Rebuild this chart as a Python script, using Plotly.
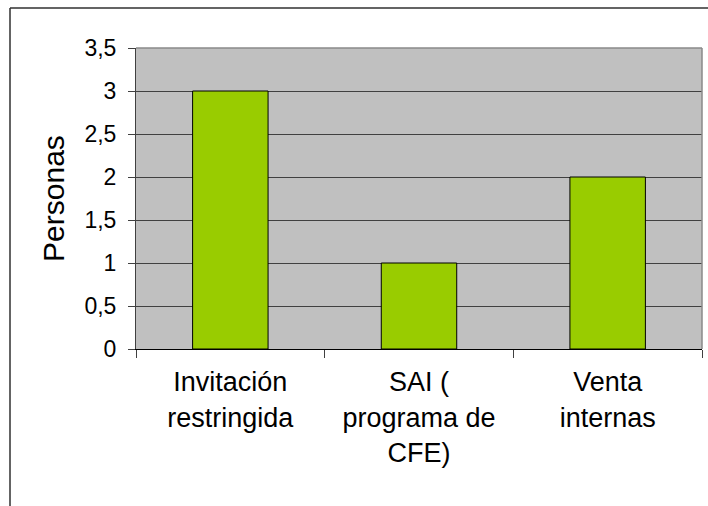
import plotly.graph_objects as go

categories = ["Invitación<br>restringida", "SAI (<br>programa de<br>CFE)", "Venta<br>internas"]
values = [3, 1, 2]
y_tick_vals = [0, 0.5, 1, 1.5, 2, 2.5, 3, 3.5]

FONT = "Arial, Liberation Sans, sans-serif"

fig = go.Figure()
fig.add_trace(go.Bar(
    x=categories, y=values,
    marker=dict(color="#99CC00", line=dict(color="#000000", width=1)),
))

L, R, T, B = 136, 6, 48, 157
W, H = 708, 506
pw = W - L - R
ph = H - T - B
fx = (10 - L) / pw
fy = 1 + (T - 8) / ph

fig.update_layout(
    width=W, height=H,
    margin=dict(l=L, r=R, t=T, b=B, pad=0),
    paper_bgcolor="white",
    plot_bgcolor="#C0C0C0",
    separators=",.",
    bargap=0.6,
    showlegend=False,
    font=dict(family=FONT, color="black"),
    xaxis=dict(
        type="category",
        tickson="boundaries",
        ticks="outside", ticklen=8, tickcolor="#404040", tickwidth=1,
        showgrid=False,
        showline=True, linecolor="black", linewidth=1,
        tickfont=dict(size=27, family=FONT),
        ticklabelstandoff=9,
        fixedrange=True,
    ),
    yaxis=dict(
        range=[0, 3.5],
        tickvals=y_tick_vals,
        ticks="outside", ticklen=7, tickcolor="#404040", tickwidth=1,
        showgrid=True, gridcolor="#404040", gridwidth=1,
        zeroline=False,
        showline=True, linecolor="#404040", linewidth=1,
        tickfont=dict(size=23, family=FONT),
        ticklabelstandoff=7,
        title=dict(text="Personas", font=dict(size=30, family=FONT), standoff=10),
        fixedrange=True,
    ),
    shapes=[
        dict(type="line", xref="paper", yref="paper", x0=0, x1=1, y0=1, y1=1,
             line=dict(color="#8a8a8a", width=1.5), layer="above"),
        dict(type="line", xref="paper", yref="paper", x0=1, x1=1, y0=0, y1=1,
             line=dict(color="#8a8a8a", width=1.5), layer="above"),
        dict(type="line", xref="paper", yref="paper", x0=fx, x1=fx, y0=-2, y1=fy,
             line=dict(color="#303030", width=1.5), layer="above"),
        dict(type="line", xref="paper", yref="paper", x0=fx, x1=3, y0=fy, y1=fy,
             line=dict(color="#303030", width=1.5), layer="above"),
    ],
)

fig.write_html("out.html", config={"displayModeBar": False},
               post_script="document.body.style.margin='0';document.body.style.padding='0';")
